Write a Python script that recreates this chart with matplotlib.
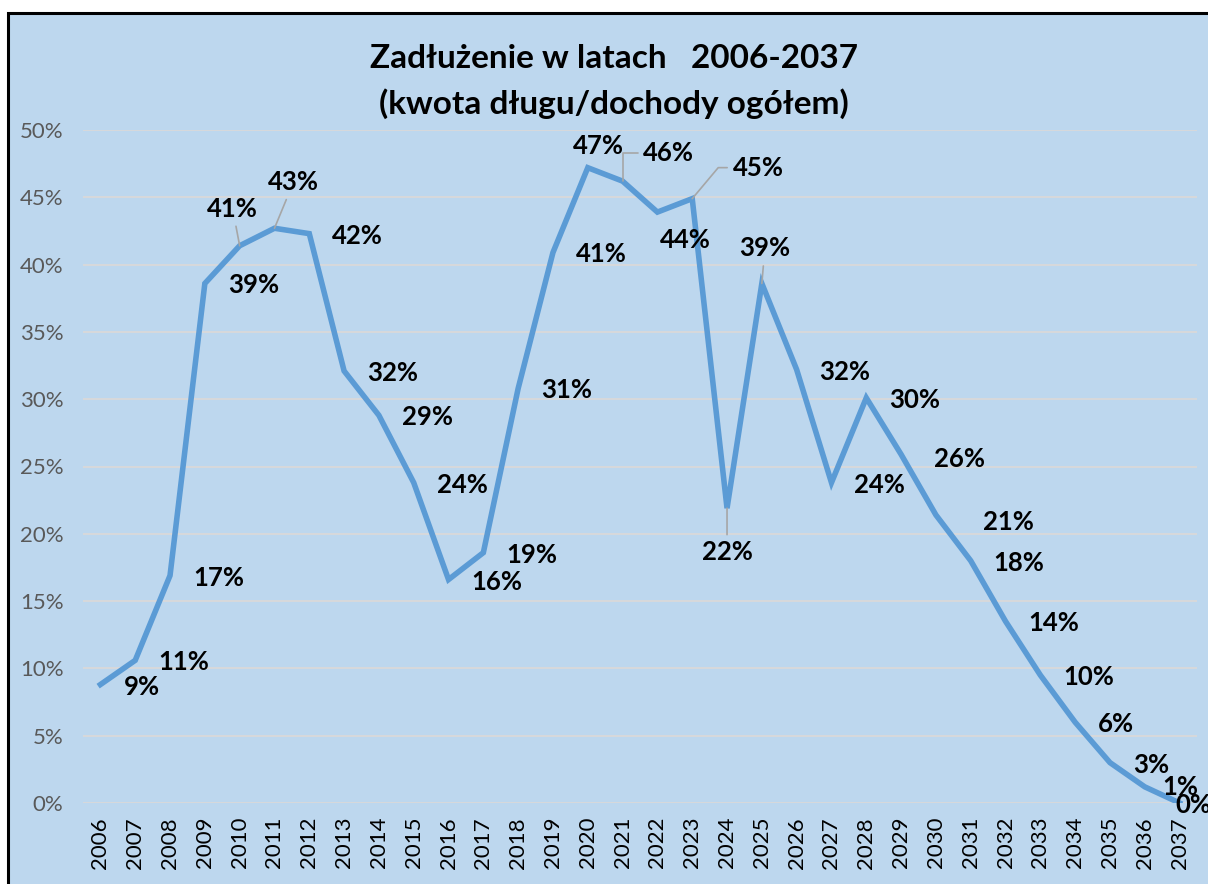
import matplotlib.pyplot as plt
from matplotlib.patches import Rectangle
from matplotlib.ticker import FuncFormatter

years = list(range(2006, 2038))
debt = [8.8, 10.6, 16.9, 38.6, 41.4, 42.7, 42.3, 32.1, 28.8, 23.8,
        16.6, 18.6, 30.8, 40.9, 47.2, 46.2, 43.9, 44.9, 21.9, 38.6,
        32.2, 23.8, 30.1, 25.9, 21.4, 18.0, 13.5, 9.5, 6.0, 3.0,
        1.2, 0.0]
labels = ["9%", "11%", "17%", "39%", "41%", "43%", "42%", "32%", "29%", "24%",
          "16%", "19%", "31%", "41%", "47%", "46%", "44%", "45%", "22%", "39%",
          "32%", "24%", "30%", "26%", "21%", "18%", "14%", "10%", "6%", "3%",
          "1%", "0%"]

BG = "#BDD7EE"
LINE = "#5B9BD5"
FONT = "Lato"

# label offsets (px) relative to the point; some get a leader line
offsets = {2010: (-7, 37, True), 2011: (19, 46, True), 2020: (-15, 22, False),
           2021: (46, 28, True), 2022: (3, -28, False), 2023: (66, 31, True),
           2024: (0, -44, True), 2025: (3, 35, True), 2029: (33, -5, False),
           2030: (47, -7, False), 2036: (18, 0, False), 2037: (-4, -2, False)}
elbows = {2021: "angle,angleA=0,angleB=90,rad=0",
          2023: "angle,angleA=0,angleB=50,rad=0"}

fig = plt.figure(figsize=(12.08, 8.84), dpi=100)
fig.patch.set_facecolor("white")
fig.patches.append(Rectangle((8 / 1208, -0.1), 1.2, (884 - 13) / 884 + 0.1,
                             transform=fig.transFigure, facecolor=BG,
                             edgecolor="black", linewidth=2.2, zorder=-5))

ax = fig.add_axes([83 / 1208, 81 / 884, 1114 / 1208, 673 / 884])
ax.set_facecolor("none")
ax.plot(years, debt, color=LINE, linewidth=4, solid_joinstyle="miter", zorder=3)

ax.set_xlim(2005.5, 2037.5)
ax.set_ylim(0, 50)
ax.set_yticks(range(0, 51, 5))
ax.yaxis.set_major_formatter(FuncFormatter(lambda v, p: f"{v:.0f}%"))
ax.set_xticks(years)
ax.set_xticklabels([str(y) for y in years], rotation=90, fontsize=16,
                   family=FONT, color="black")
for t in ax.get_yticklabels():
    t.set_fontfamily(FONT)
    t.set_fontsize(16)
    t.set_color("#595959")
ax.tick_params(length=0, pad=10)
ax.tick_params(axis="y", pad=14)
ax.grid(axis="y", color="#D9D9D9", linewidth=1.3)
ax.set_axisbelow(True)
for s in ax.spines.values():
    s.set_visible(False)

for y, v, lab in zip(years, debt, labels):
    dx, dy, lead = offsets.get(y, (23, -2, False))
    arrow = None
    if lead:
        arrow = dict(arrowstyle="-", color="#A6A6A6", lw=1.2, shrinkA=2, shrinkB=0,
                     connectionstyle=elbows.get(y, "arc3"))
    ax.annotate(lab, (y, v), xytext=(dx * 0.72, dy * 0.72), textcoords="offset points",
                ha="left" if not lead else "center", va="center",
                fontsize=18.5, fontweight="bold", family=FONT, color="black",
                arrowprops=arrow, zorder=4, annotation_clip=False)

fig.text(0.508, 0.934, "Zadłużenie w latach   2006-2037", ha="center", va="center",
         fontsize=24, fontweight="bold", family=FONT)
fig.text(0.508, 0.883, "(kwota długu/dochody ogółem)", ha="center", va="center",
         fontsize=24, fontweight="bold", family=FONT)

fig.savefig("out.png", dpi=100)
